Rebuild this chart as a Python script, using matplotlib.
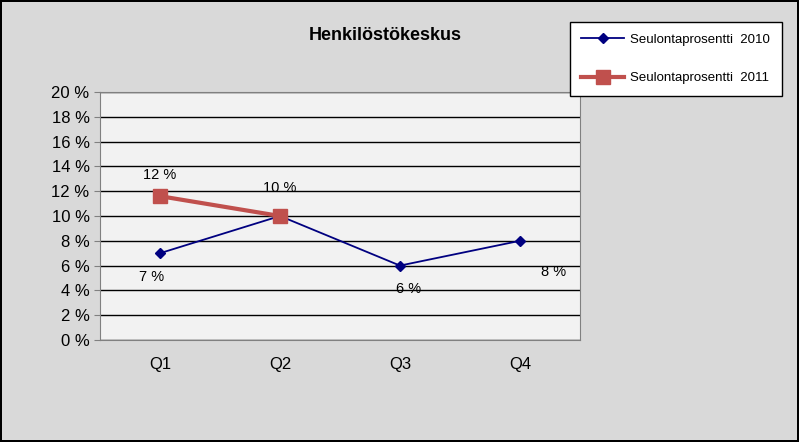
import matplotlib.pyplot as plt
from matplotlib.ticker import MultipleLocator, FuncFormatter

quarters = ['Q1', 'Q2', 'Q3', 'Q4']
values_2010 = [7, 10, 6, 8]
values_2011 = [11.6, 10]
labels_2010 = ['7 %', '10 %', '6 %', '8 %']
labels_2011 = ['12 %']

plt.rcParams['font.family'] = ['Liberation Sans', 'DejaVu Sans']

fig = plt.figure(figsize=(7.99, 4.42), dpi=100)
fig.patch.set_facecolor('#d9d9d9')
fig.patch.set_edgecolor('black')
fig.patch.set_linewidth(1.5)

ax = fig.add_axes([100 / 799, 1 - 340 / 442, 480 / 799, 248 / 442])
ax.set_facecolor('#f2f2f2')
x = list(range(len(quarters)))

l1, = ax.plot(x, values_2010, color='#000080', marker='D', markersize=5, lw=1.3,
              label='Seulontaprosentti  2010', zorder=3)
l2, = ax.plot(x[:len(values_2011)], values_2011, color='#c0504d', marker='s', markersize=10,
              lw=3, label='Seulontaprosentti  2011', zorder=4)

offsets_2010 = [(-6, -20), (0, 17), (6, -20), (24, -25)]
for xi, v, t, (dx, dy) in zip(x, values_2010, labels_2010, offsets_2010):
    ax.annotate(t, (xi, v), xytext=(dx, dy), textcoords='offset points', ha='center', fontsize=10.5)
ax.annotate(labels_2011[0], (0, values_2011[0]), xytext=(0, 12), textcoords='offset points',
            ha='center', fontsize=10.5)

ax.set_xlim(-0.5, 3.5)
ax.set_ylim(0, 20)
ax.yaxis.set_major_locator(MultipleLocator(2))
ax.yaxis.set_major_formatter(FuncFormatter(lambda v, p: f'{v:.0f} %'))
ax.set_xticks(x)
ax.set_xticklabels(quarters)
ax.tick_params(labelsize=12, direction='out', length=4, color='#808080')
ax.tick_params(axis='x', length=0, pad=12)
ax.grid(axis='y', color='black', lw=1)
for s in ax.spines.values():
    s.set_color('#808080')

fig.text(385 / 799, 1 - 36 / 442, 'Henkilöstökeskus', ha='center', va='center',
         fontsize=13, fontweight='bold')

leg = fig.legend(handles=[l1, l2], loc='upper left', bbox_to_anchor=(563 / 799, 1 - 15 / 442),
                 fontsize=9.5, frameon=True, fancybox=False, edgecolor='black',
                 facecolor='white', framealpha=1,
                 labelspacing=2.0, handlelength=3.2, handletextpad=0.5, borderpad=0.9)
leg.get_frame().set_linewidth(1)

fig.savefig('out.png', dpi=100, facecolor=fig.get_facecolor(), edgecolor=fig.get_edgecolor())
